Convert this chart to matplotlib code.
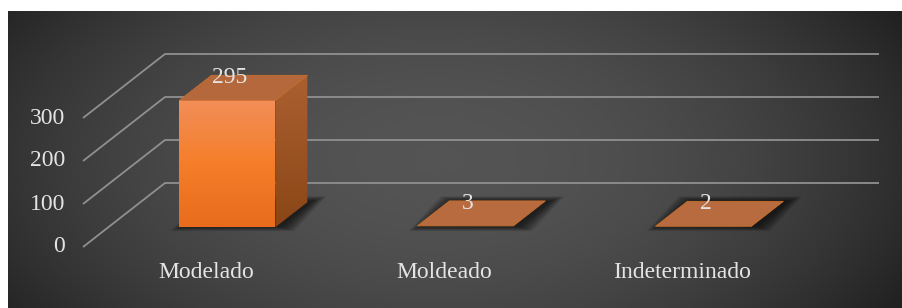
import numpy as np
import matplotlib.pyplot as plt
from matplotlib.patches import Polygon
from matplotlib.transforms import Affine2D, IdentityTransform

# data
categories = ['Modelado', 'Moldeado', 'Indeterminado']
values = [295, 3, 2]
yticks = [0, 100, 200, 300]

W, H = 903, 308
fig = plt.figure(figsize=(W / 100, H / 100), dpi=100)
fig.patch.set_facecolor('white')

# dark radial background panel
bg = fig.add_axes([8 / W, 0, 1 - 8 / W, 297 / H])
yy, xx = np.mgrid[0:1:300j, 0:1:900j]
r2 = ((xx - 0.48) / 0.62) ** 2 + ((yy - 0.5) / 1.0) ** 2
shade = np.clip(0.33 - 0.215 * r2, 0.13, 1)
bg.imshow(np.dstack([shade] * 3), aspect='auto', extent=[0, 1, 0, 1])
bg.axis('off')

ax = fig.add_axes([0, 0, 1, 1])
ax.set_facecolor('none')
ax.axis('off')
# scales: 0.43 px per unit, 238 px per category
XL = (-202 / 238, (W - 202) / 238)
YL = (-61 / 0.43, (H - 61) / 0.43)
ax.set_xlim(*XL)
ax.set_ylim(*YL)

DEPTH = np.array([82.0, 64.0])
f0, f1 = 0.31, 0.70
bw = 0.403
ID = IdentityTransform()


def pt(x, y, f=0.0):
    return ax.transData.transform((x, y)) + f * DEPTH


def shift(dx, dy):
    return ax.transData + Affine2D().translate(dx, dy)


font = dict(family=['Liberation Serif', 'DejaVu Serif'], color='#E4E4E4',
            fontsize=17)

# perspective gridlines (wall + back)
for t in yticks:
    a = pt(-0.5, t, 0)
    b = pt(-0.5, t, 1)
    c = pt(2.5, t, 1)
    pts = np.array([a, b, c])
    ax.plot(pts[:, 0], pts[:, 1], color='#909090', lw=1.3, transform=ID,
            zorder=2, solid_capstyle='butt')
    ax.text(-0.5, t, str(t), ha='right', va='center',
            transform=shift(-18, 0), zorder=5, **font)

for i, (cat, v) in enumerate(zip(categories, values)):
    xl, xr = i - bw / 2, i + bw / 2
    # soft shadow on the floor
    foot = np.array([pt(xl, 0, f0), pt(xr, 0, f0), pt(xr, 0, f1), pt(xl, 0, f1)])
    cen = foot.mean(axis=0)
    for d in np.linspace(14, 1, 12):
        sgn = np.sign(foot - cen)
        poly = foot + sgn * np.array([d, d * 0.35]) + np.array([5, 1])
        ax.add_patch(Polygon(poly, closed=True, color='black', alpha=0.065,
                             lw=0, transform=ID, zorder=3))

    if v > 10:
        # front face with vertical gradient
        front = Polygon(np.array([pt(xl, 0, f0), pt(xr, 0, f0),
                                  pt(xr, v, f0), pt(xl, v, f0)]),
                        closed=True, fc='none', lw=0, transform=ID, zorder=6)
        ax.add_patch(front)
        grad = np.array([[242, 142, 88], [245, 126, 42], [232, 108, 28]]) / 255
        g = np.linspace(0, 1, 100)[:, None]
        img = np.where(g < 0.5,
                       grad[0] + (grad[1] - grad[0]) * (g / 0.5),
                       grad[1] + (grad[2] - grad[1]) * ((g - 0.5) / 0.5))
        im = ax.imshow(img[:, None, :], aspect='auto',
                       extent=[xl, xr, 0, v], transform=shift(*(f0 * DEPTH)),
                       zorder=6)
        im.set_clip_path(front)
        # right side face
        side = Polygon(np.array([pt(xr, 0, f0), pt(xr, v, f0),
                                 pt(xr, v, f1), pt(xr, 0, f1)]),
                       closed=True, fc='none', lw=0, transform=ID, zorder=6)
        ax.add_patch(side)
        sgrad = np.array([[172, 96, 50], [138, 70, 22]]) / 255
        simg = sgrad[0] + (sgrad[1] - sgrad[0]) * g
        im2 = ax.imshow(simg[:, None, :], aspect='auto',
                        extent=[xr, xr + 0.14, 0, v + 60],
                        transform=shift(*(f0 * DEPTH)), zorder=6)
        im2.set_clip_path(side)
        ax.set_xlim(*XL)
        ax.set_ylim(*YL)
        top_col = '#B5683C'
    else:
        top_col = '#B96B40'

    top = np.array([pt(xl, v, f0), pt(xr, v, f0), pt(xr, v, f1), pt(xl, v, f1)])
    ax.add_patch(Polygon(top, closed=True, fc=top_col, ec='#C8702C', lw=0.6,
                         transform=ID, zorder=7))

    # value label near back edge of the top face
    ax.text(i, v, str(v), ha='center', va='center',
            transform=shift(f1 * DEPTH[0] - 30, f1 * DEPTH[1] - 2.5),
            zorder=8, **font)
    # category label
    ax.text(i, 0, cat, ha='center', va='center', transform=shift(4, -26),
            zorder=5, **font)

fig.savefig('out.png', dpi=100, facecolor='white')
